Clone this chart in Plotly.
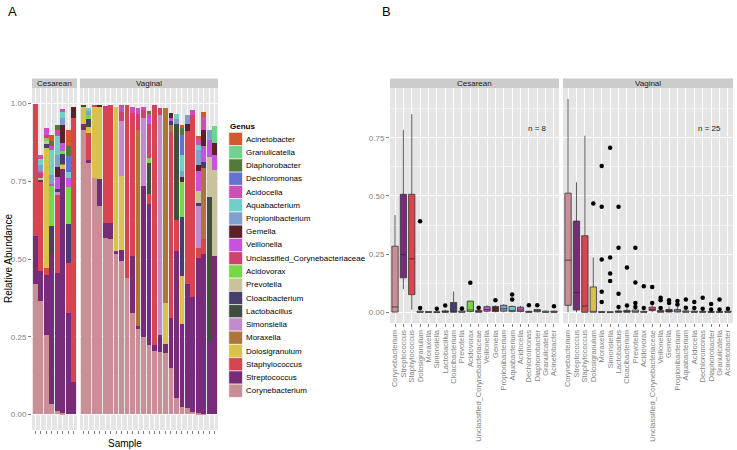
import plotly.graph_objects as go

W, H = 737, 450
FONT = "Liberation Sans, Arial, sans-serif"

GENERA = ["Corynebacterium", "Streptococcus", "Staphylococcus", "Dolosigranulum",
          "Moraxella", "Simonsiella", "Lactobacillus", "Cloacibacterium", "Prevotella",
          "Acidovorax", "Unclassified_Corynebacteriaceae", "Veillonella", "Gemella",
          "Propionibacterium", "Aquabacterium", "Acidocella", "Dechloromonas",
          "Diaphorobacter", "Granulicatella", "Acinetobacter"]
COLORS = ["#C98E96", "#762C78", "#D74550", "#D9C24A", "#AE7439", "#C48ACF", "#3E4F3E",
          "#443F6D", "#C9C39C", "#76D846", "#D2416D", "#C653E0", "#5A2228", "#7DA0CF",
          "#70CFC6", "#CC4FB8", "#6570D3", "#547A3A", "#6FD38E", "#D2592E"]
GROUPS = ["Cesarean", "Vaginal"]
N_LABELS = ["n = 8", "n = 25"]

# ---------------- Panel A: relative abundance per sample (8 cesarean, 25 vaginal) ----
ces_corynebacterium = [0.418, 0.364, 0.256, 0.035, 0.01, 0.005, 0, 0]
ces_streptococcus = [0.156, 0.097, 0.194, 0.48, 0.445, 0.783, 0.327, 0.105]
ces_staphylococcus = [0.414, 0.288, 0.022, 0, 0.25, 0, 0.16, 0.85]
ces_dolosigranulum = [0, 0, 0.386, 0, 0, 0.015, 0, 0]
ces_moraxella = [0, 0, 0, 0, 0, 0.004, 0, 0]
ces_simonsiella = [0, 0, 0, 0, 0.01, 0, 0, 0]
ces_lactobacillus = [0, 0, 0, 0.015, 0, 0, 0, 0]
ces_cloacibacterium = [0, 0.008, 0.012, 0.075, 0.01, 0.03, 0.125, 0]
ces_prevotella = [0, 0.005, 0.01, 0, 0, 0, 0, 0]
ces_acidovorax = [0, 0, 0.012, 0.13, 0, 0.01, 0.118, 0]
ces_unclassified = [0.01, 0.015, 0.006, 0, 0, 0, 0, 0]
ces_veillonella = [0, 0.005, 0.01, 0.005, 0.04, 0.025, 0.03, 0]
ces_gemella = [0, 0, 0, 0, 0.03, 0.06, 0, 0.035]
ces_propionibacterium = [0, 0.02, 0, 0.03, 0.04, 0.02, 0, 0]
ces_aquabacterium = [0, 0.02, 0, 0.08, 0.06, 0.02, 0.02, 0]
ces_acidocella = [0, 0.012, 0.012, 0.015, 0.02, 0.012, 0, 0]
ces_dechloromonas = [0, 0, 0, 0, 0, 0, 0.05, 0]
ces_diaphorobacter = [0, 0, 0, 0.015, 0.015, 0, 0.035, 0]
ces_granulicatella = [0, 0, 0, 0, 0, 0, 0, 0]
ces_acinetobacter = [0, 0, 0, 0.018, 0, 0, 0.05, 0]

vag_corynebacterium = [0.915, 0.81, 0.762, 0.67, 0.568, 0.563, 0.515, 0.493, 0.44, 0.326,
                       0.275, 0.25, 0.224, 0.205, 0.2, 0.197, 0.15, 0.052, 0.025, 0.02,
                       0.009, 0.004, 0.002, 0, 0]
vag_streptococcus = [0.02, 0.01, 0, 0.086, 0.049, 0.054, 0.01, 0.037, 0, 0.184,
                     0.01, 0.485, 0.452, 0.02, 0.055, 0.03, 0.16, 0.473, 0.265, 0.398,
                     0.37, 0.5, 0.513, 0.235, 0.51]
vag_staphylococcus = [0, 0.085, 0, 0, 0.355, 0.37, 0, 0, 0.555, 0.43,
                      0, 0, 0.032, 0.76, 0, 0, 0.6, 0.1, 0, 0.495,
                      0.57, 0.03, 0.05, 0, 0]
vag_dolosigranulum = [0.055, 0.02, 0.228, 0.234, 0, 0, 0.465, 0.237, 0, 0,
                      0, 0, 0, 0, 0, 0.13, 0, 0, 0.155, 0,
                      0, 0, 0, 0, 0]
vag_moraxella = [0, 0, 0, 0, 0, 0, 0, 0, 0, 0,
                 0.63, 0, 0, 0, 0, 0.628, 0.02, 0, 0, 0,
                 0, 0, 0.227, 0, 0]
vag_simonsiella = [0, 0, 0, 0, 0, 0, 0, 0.177, 0, 0,
                   0, 0.22, 0, 0, 0.707, 0, 0, 0, 0, 0,
                   0, 0.135, 0, 0, 0]
vag_lactobacillus = [0.005, 0.01, 0, 0, 0, 0, 0, 0, 0, 0,
                     0, 0, 0.102, 0, 0, 0, 0, 0.31, 0, 0,
                     0, 0, 0, 0.454, 0]
vag_cloacibacterium = [0, 0.015, 0, 0, 0, 0, 0, 0, 0, 0,
                       0, 0, 0, 0, 0, 0, 0.015, 0, 0.19, 0,
                       0, 0.01, 0.02, 0.01, 0]
vag_prevotella = [0, 0, 0, 0, 0, 0, 0, 0, 0, 0,
                  0, 0, 0, 0, 0, 0, 0, 0, 0, 0,
                  0, 0.04, 0, 0.128, 0.277]
vag_acidovorax = [0, 0.012, 0, 0, 0, 0, 0, 0, 0, 0,
                  0, 0, 0.016, 0, 0, 0, 0, 0, 0.113, 0,
                  0, 0, 0, 0, 0]
vag_unclassified = [0, 0, 0.005, 0, 0.021, 0.008, 0, 0.03, 0, 0.03,
                    0.05, 0.025, 0.109, 0.01, 0.025, 0, 0, 0, 0, 0,
                    0.015, 0, 0, 0, 0]
vag_veillonella = [0, 0, 0, 0, 0, 0, 0, 0, 0, 0,
                   0, 0, 0.02, 0, 0, 0, 0.01, 0, 0, 0,
                   0, 0.063, 0.05, 0.055, 0.047]
vag_gemella = [0, 0, 0, 0.005, 0, 0, 0, 0, 0, 0,
               0, 0, 0, 0, 0, 0, 0.015, 0, 0.016, 0.02,
               0, 0.02, 0.052, 0, 0.04]
vag_propionibacterium = [0, 0.015, 0, 0, 0, 0, 0, 0, 0, 0,
                         0, 0, 0, 0, 0, 0, 0, 0.015, 0.02, 0.03,
                         0, 0.049, 0, 0.033, 0]
vag_aquabacterium = [0, 0.01, 0, 0, 0, 0, 0, 0, 0, 0,
                     0, 0, 0, 0, 0, 0, 0, 0.015, 0.05, 0,
                     0, 0.015, 0, 0, 0]
vag_acidocella = [0, 0, 0, 0, 0, 0, 0, 0.02, 0, 0.02,
                  0.02, 0.01, 0.01, 0, 0, 0, 0, 0, 0, 0,
                  0.015, 0.02, 0.044, 0, 0]
vag_dechloromonas = [0, 0, 0, 0, 0, 0, 0, 0, 0, 0,
                     0, 0, 0, 0, 0, 0, 0, 0, 0.065, 0,
                     0, 0, 0, 0, 0]
vag_diaphorobacter = [0, 0, 0, 0, 0, 0, 0, 0, 0, 0,
                      0, 0, 0.01, 0, 0, 0, 0, 0, 0.022, 0,
                      0, 0, 0, 0, 0]
vag_granulicatella = [0, 0, 0, 0, 0, 0, 0, 0, 0, 0,
                      0, 0, 0, 0, 0, 0, 0, 0, 0, 0,
                      0, 0, 0, 0, 0.055]
vag_acinetobacter = [0, 0, 0, 0, 0, 0, 0, 0, 0, 0,
                     0, 0, 0, 0, 0, 0, 0, 0, 0.01, 0,
                     0, 0.01, 0.015, 0, 0]

CES_BARS = [ces_corynebacterium, ces_streptococcus, ces_staphylococcus, ces_dolosigranulum,
            ces_moraxella, ces_simonsiella, ces_lactobacillus, ces_cloacibacterium,
            ces_prevotella, ces_acidovorax, ces_unclassified, ces_veillonella, ces_gemella,
            ces_propionibacterium, ces_aquabacterium, ces_acidocella, ces_dechloromonas,
            ces_diaphorobacter, ces_granulicatella, ces_acinetobacter]
VAG_BARS = [vag_corynebacterium, vag_streptococcus, vag_staphylococcus, vag_dolosigranulum,
            vag_moraxella, vag_simonsiella, vag_lactobacillus, vag_cloacibacterium,
            vag_prevotella, vag_acidovorax, vag_unclassified, vag_veillonella, vag_gemella,
            vag_propionibacterium, vag_aquabacterium, vag_acidocella, vag_dechloromonas,
            vag_diaphorobacter, vag_granulicatella, vag_acinetobacter]

# ---------------- Panel B: box statistics per genus (GENERA order) -------------------
ces_q1 = [0.001, 0.148, 0.076, 0, 0, 0, 0, 0, 0, 0.003, 0, 0.005, 0.003, 0.005, 0.003, 0.003, 0, 0.002, 0, 0]
ces_median = [0.023, 0.248, 0.23, 0.001, 0, 0, 0.001, 0.003, 0.001, 0.01, 0.002, 0.012, 0.01, 0.015, 0.008, 0.01, 0.001, 0.005, 0.001, 0.001]
ces_q3 = [0.284, 0.507, 0.507, 0.005, 0.003, 0.002, 0.006, 0.042, 0.006, 0.048, 0.008, 0.024, 0.025, 0.03, 0.025, 0.022, 0.004, 0.012, 0.005, 0.005]
ces_low = [0, 0.1, 0.011, 0, 0, 0, 0, 0, 0, 0, 0, 0, 0, 0, 0, 0, 0, 0, 0, 0]
ces_high = [0.418, 0.784, 0.852, 0.01, 0.004, 0.005, 0.012, 0.09, 0.012, 0.05, 0.012, 0.03, 0.03, 0.035, 0.03, 0.028, 0.008, 0.015, 0.008, 0.008]
ces_out_genus = ["Dolosigranulum", "Dolosigranulum", "Simonsiella", "Lactobacillus", "Prevotella",
                 "Acidovorax", "Unclassified_Corynebacteriaceae", "Gemella", "Aquabacterium",
                 "Aquabacterium", "Dechloromonas", "Diaphorobacter", "Acinetobacter"]
ces_out_value = [0.391, 0.019, 0.015, 0.029, 0.016, 0.127, 0.02, 0.052, 0.076, 0.055, 0.03, 0.03, 0.026]

vag_q1 = [0.03, 0.01, 0, 0, 0, 0, 0, 0, 0, 0, 0.008, 0, 0.001, 0.001, 0, 0, 0, 0, 0, 0]
vag_median = [0.224, 0.085, 0.027, 0.004, 0, 0, 0.001, 0.002, 0.002, 0.001, 0.012, 0.002, 0.005, 0.004, 0.002, 0.001, 0.001, 0, 0, 0.001]
vag_q3 = [0.512, 0.392, 0.329, 0.109, 0.003, 0.002, 0.006, 0.008, 0.01, 0.004, 0.022, 0.008, 0.012, 0.012, 0.006, 0.005, 0.004, 0.003, 0.003, 0.005]
vag_low = [0, 0, 0, 0, 0, 0, 0, 0, 0, 0, 0, 0, 0, 0, 0, 0, 0, 0, 0, 0]
vag_high = [0.917, 0.559, 0.759, 0.236, 0.006, 0.005, 0.012, 0.018, 0.02, 0.008, 0.03, 0.015, 0.025, 0.025, 0.012, 0.01, 0.008, 0.006, 0.006, 0.01]
vag_out_genus = ["Dolosigranulum",
                 "Moraxella", "Moraxella", "Moraxella", "Moraxella", "Moraxella",
                 "Simonsiella", "Simonsiella", "Simonsiella", "Simonsiella",
                 "Lactobacillus", "Lactobacillus", "Lactobacillus", "Lactobacillus",
                 "Cloacibacterium", "Cloacibacterium",
                 "Prevotella", "Prevotella", "Prevotella", "Prevotella",
                 "Acidovorax", "Acidovorax",
                 "Unclassified_Corynebacteriaceae", "Unclassified_Corynebacteriaceae",
                 "Veillonella", "Veillonella", "Veillonella",
                 "Gemella", "Gemella", "Propionibacterium", "Propionibacterium",
                 "Aquabacterium", "Aquabacterium", "Acidocella", "Acidocella",
                 "Dechloromonas", "Dechloromonas", "Diaphorobacter", "Diaphorobacter",
                 "Granulicatella", "Granulicatella", "Acinetobacter"]
vag_out_value = [0.468,
                 0.629, 0.454, 0.227, 0.088, 0.044,
                 0.707, 0.236, 0.167, 0.135,
                 0.454, 0.277, 0.08, 0.023,
                 0.193, 0.029,
                 0.277, 0.128, 0.04, 0.023,
                 0.112, 0.019,
                 0.109, 0.04,
                 0.063, 0.052, 0.019,
                 0.052, 0.04, 0.049, 0.033,
                 0.055, 0.02, 0.044, 0.018,
                 0.063, 0.015, 0.036, 0.012,
                 0.055, 0.012, 0.015]


def px(xp):
    return xp / W


def py(yp):
    return 1 - yp / H


fig = go.Figure()

# ---- stacked bars (panel A)
for facet, bars, xa, ya in [(0, CES_BARS, "x", "y"), (1, VAG_BARS, "x2", "y2")]:
    for g, (name, col) in enumerate(zip(GENERA, COLORS)):
        vals = bars[g]
        fig.add_trace(go.Bar(
            x=list(range(1, len(vals) + 1)), y=vals, name=name,
            marker=dict(color=col, line=dict(width=0)), width=0.85,
            xaxis=xa, yaxis=ya, showlegend=False, hoverinfo="skip"))

# ---- boxplots (panel B)
pos = {g: i + 1 for i, g in enumerate(GENERA)}
for stats, outg, outv, xa, ya in [
        ((ces_q1, ces_median, ces_q3, ces_low, ces_high), ces_out_genus, ces_out_value, "x3", "y3"),
        ((vag_q1, vag_median, vag_q3, vag_low, vag_high), vag_out_genus, vag_out_value, "x4", "y4")]:
    q1, med, q3, lo, hi = stats
    for g, (name, col) in enumerate(zip(GENERA, COLORS)):
        fig.add_trace(go.Box(
            x=[g + 1], q1=[q1[g]], median=[med[g]], q3=[q3[g]],
            lowerfence=[lo[g]], upperfence=[hi[g]], name=name,
            fillcolor=col, line=dict(color="#333333", width=0.8),
            width=0.75, whiskerwidth=0, boxpoints=False,
            xaxis=xa, yaxis=ya, showlegend=False, hoverinfo="skip"))
    fig.add_trace(go.Scatter(
        x=[pos[g] for g in outg], y=outv, mode="markers",
        marker=dict(color="black", size=4.5), xaxis=xa, yaxis=ya,
        showlegend=False, hoverinfo="skip"))

tickfont = dict(size=8, color="#7F7F7F", family=FONT)
common = dict(showline=False, zeroline=False, gridcolor="white", gridwidth=1,
              tickcolor="#7F7F7F", ticklen=3, tickwidth=1, automargin=False,
              fixedrange=True)

yA_dom = [py(430), py(88)]
yB_dom = [py(323), py(88)]
ytA = dict(tickmode="array", tickvals=[0, 0.25, 0.5, 0.75, 1.0],
           ticktext=["0.00", "0.25", "0.50", "0.75", "1.00"],
           minor=dict(tickvals=[0.125, 0.375, 0.625, 0.875], showgrid=True,
                      gridcolor="#F2F2F2", gridwidth=0.6))
ytB = dict(tickmode="array", tickvals=[0, 0.25, 0.5, 0.75],
           ticktext=["0.00", "0.25", "0.50", "0.75"],
           minor=dict(tickvals=[0.125, 0.375, 0.625, 0.875], showgrid=True,
                      gridcolor="#F2F2F2", gridwidth=0.6))
xlabfont = dict(size=7.5, color="#7F7F7F", family=FONT)

fig.update_layout(
    width=W, height=H, margin=dict(l=0, r=0, t=0, b=0), autosize=False,
    paper_bgcolor="white", plot_bgcolor="#E5E5E5",
    barmode="stack", bargap=0, boxmode="overlay", showlegend=False,
    font=dict(family=FONT, color="black"),
    xaxis=dict(domain=[px(32), px(77)], range=[0.4, 8.6], anchor="y",
               tickmode="array", tickvals=list(range(1, 9)), showticklabels=False,
               ticks="outside", showgrid=True, tickfont=tickfont, **common),
    xaxis2=dict(domain=[px(80), px(218)], range=[0.4, 25.6], anchor="y2",
                tickmode="array", tickvals=list(range(1, 26)), showticklabels=False,
                ticks="outside", showgrid=True, tickfont=tickfont, **common),
    yaxis=dict(domain=yA_dom, range=[-0.05, 1.05], anchor="x", ticks="outside",
               showgrid=True, tickfont=tickfont, **ytA, **common),
    yaxis2=dict(domain=yA_dom, range=[-0.05, 1.05], anchor="x2", ticks="",
                showticklabels=False, showgrid=True, tickfont=tickfont, **ytA, **common),
    xaxis3=dict(domain=[px(390), px(559)], range=[0.4, 20.6], anchor="y3",
                tickmode="array", tickvals=list(range(1, 21)), ticktext=GENERA,
                tickangle=-90, ticks="outside", showgrid=True, tickfont=xlabfont, **common),
    xaxis4=dict(domain=[px(563), px(733)], range=[0.4, 20.6], anchor="y4",
                tickmode="array", tickvals=list(range(1, 21)), ticktext=GENERA,
                tickangle=-90, ticks="outside", showgrid=True, tickfont=xlabfont, **common),
    yaxis3=dict(domain=yB_dom, range=[-0.046, 0.964], anchor="x3", ticks="outside",
                showgrid=True, tickfont=tickfont, **ytB, **common),
    yaxis4=dict(domain=yB_dom, range=[-0.046, 0.964], anchor="x4", ticks="",
                showticklabels=False, showgrid=True, tickfont=tickfont, **ytB, **common),
)

shapes = []
annotations = []

# facet strips
strips = [(32, 77, GROUPS[0]), (80, 218, GROUPS[1]), (390, 559, GROUPS[0]), (563, 733, GROUPS[1])]
for x0, x1, lab in strips:
    shapes.append(dict(type="rect", xref="paper", yref="paper", x0=px(x0), x1=px(x1),
                       y0=py(88), y1=py(78.5), fillcolor="#CCCCCC", line=dict(width=0),
                       layer="below"))
    annotations.append(dict(text=lab, xref="paper", yref="paper", x=px((x0 + x1) / 2),
                            y=py(83.3), xanchor="center", yanchor="middle", showarrow=False,
                            font=dict(size=8, color="#1A1A1A", family=FONT)))

# n labels
for xa, ya, lab in [("x3", "y3", N_LABELS[0]), ("x4", "y4", N_LABELS[1])]:
    annotations.append(dict(text=lab, xref=xa, yref=ya, x=19.45, y=0.79, xanchor="right",
                            yanchor="middle", showarrow=False,
                            font=dict(size=8, color="#1A1A1A", family=FONT)))

# panel letters and titles
annotations.append(dict(text="A", xref="paper", yref="paper", x=px(6), y=py(11),
                        xanchor="left", yanchor="middle", showarrow=False,
                        font=dict(size=13, color="black", family=FONT)))
annotations.append(dict(text="B", xref="paper", yref="paper", x=px(380), y=py(11),
                        xanchor="left", yanchor="middle", showarrow=False,
                        font=dict(size=13, color="black", family=FONT)))
annotations.append(dict(text="Relative Abundance", xref="paper", yref="paper", x=px(8),
                        y=py(259), xanchor="center", yanchor="middle", textangle=-90,
                        showarrow=False, font=dict(size=10, color="black", family=FONT)))
annotations.append(dict(text="Sample", xref="paper", yref="paper", x=px(125), y=py(443),
                        xanchor="center", yanchor="middle", showarrow=False,
                        font=dict(size=10, color="black", family=FONT)))

# legend (Genus)
annotations.append(dict(text="<b>Genus</b>", xref="paper", yref="paper", x=px(228.5),
                        y=py(126), xanchor="left", yanchor="middle", showarrow=False,
                        font=dict(size=8, color="black", family=FONT)))
step = 13.25
for i, g in enumerate(reversed(range(len(GENERA)))):
    cy = 139 + i * step
    shapes.append(dict(type="rect", xref="paper", yref="paper", x0=px(228.8), x1=px(242.5),
                       y0=py(cy + step / 2), y1=py(cy - step / 2), fillcolor=COLORS[g],
                       line=dict(color="white", width=0.6)))
    annotations.append(dict(text=GENERA[g], xref="paper", yref="paper", x=px(244.3), y=py(cy),
                            xanchor="left", yanchor="middle", showarrow=False,
                            font=dict(size=8, color="black", family=FONT)))

fig.update_layout(shapes=shapes, annotations=annotations)
fig.write_html("out.html", config={"displayModeBar": False},
               post_script="document.body.style.margin='0px';")
